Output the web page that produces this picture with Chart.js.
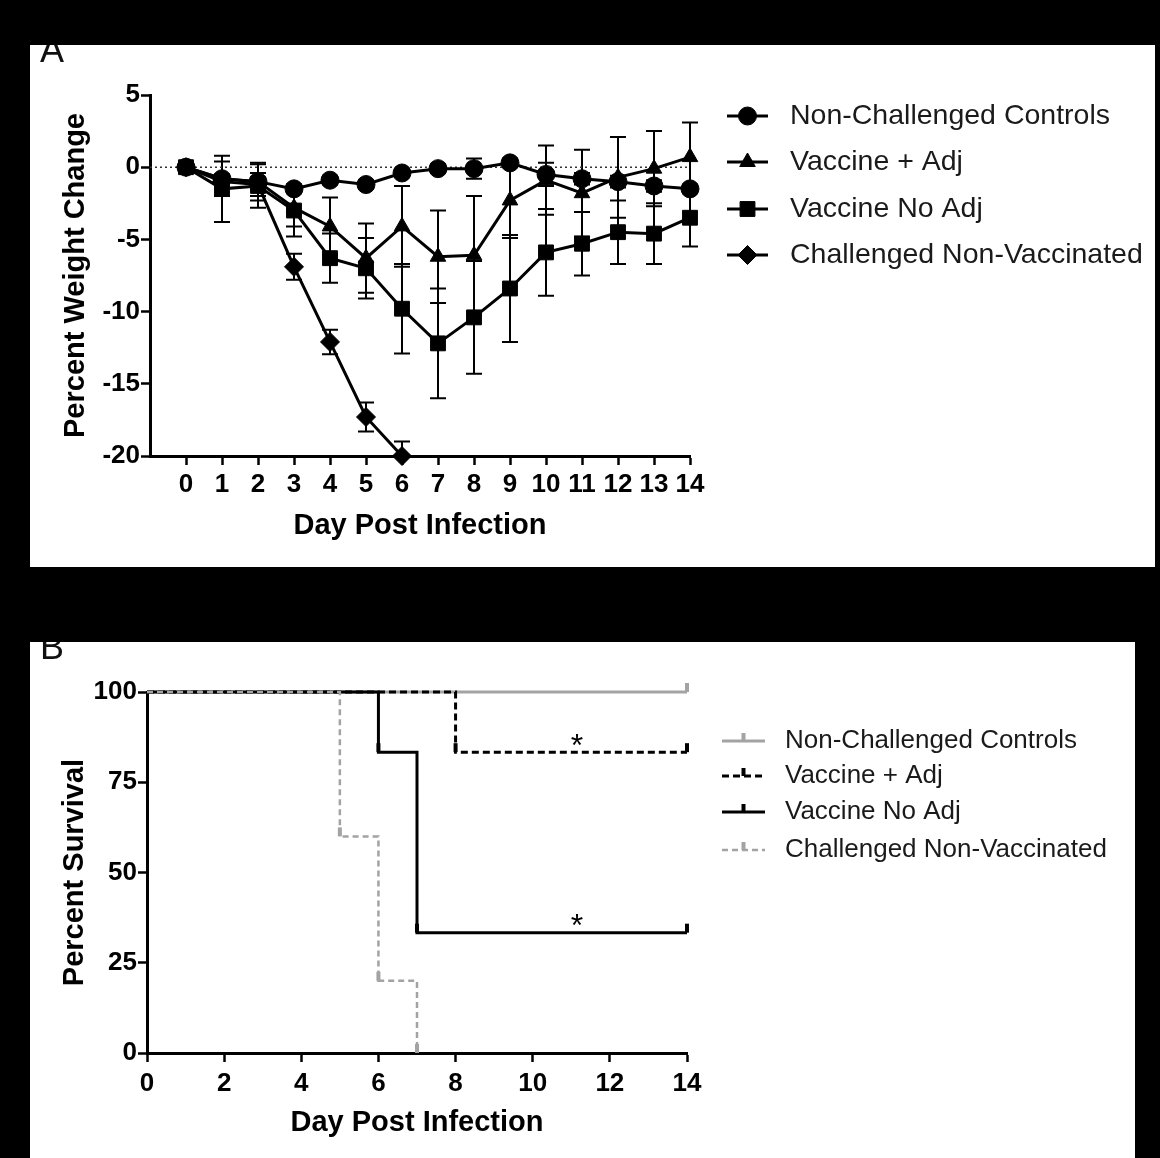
<!DOCTYPE html>
<html>
<head>
<meta charset="utf-8">
<script src="https://cdn.jsdelivr.net/npm/chart.js@4.4.1/dist/chart.umd.min.js"></script>
<style>
  body { margin: 0; background: #000; width: 1160px; height: 1158px; overflow: hidden; position: relative; }
  .panel { position: absolute; background: #fff; overflow: hidden; }
  #panelA { left: 30px; top: 45px; width: 1125px; height: 522px; }
  #panelB { left: 30px; top: 642px; width: 1105px; height: 516px; }
  .tag { position: absolute; left: 10px; font: 36px "Liberation Sans", Arial, sans-serif; color: #111; line-height: 1; }
  canvas { position: absolute; left: 0; top: 0; }
</style>
</head>
<body>
<div class="panel" id="panelA">
  <canvas id="chartA" width="1125" height="522"></canvas>
  <div class="tag" style="top:-13px">A</div>
</div>
<div class="panel" id="panelB">
  <canvas id="chartB" width="1105" height="516"></canvas>
  <div class="tag" style="top:-13px">B</div>
</div>
<script>
// ---- panel A data: percent weight change (mean, sd) ----
const days = [0, 1, 2, 3, 4, 5, 6, 7, 8, 9, 10, 11, 12, 13, 14];
const dayTicks = [0, 1, 2, 3, 4, 5, 6, 7, 8, 9, 10, 11, 12, 13, 14];
const weightTicks = [5, 0, -5, -10, -15, -20];

const controlsMean = [0, -0.8, -1.0, -1.5, -0.9, -1.2, -0.4, -0.1, -0.1, 0.3, -0.5, -0.8, -1.0, -1.3, -1.5];
const controlsSd   = [0, 0.3, 0.3, 0.3, 0.3, 0.3, 0.3, 0.3, 0.7, 0.3, 0.8, 0.4, 0.4, 0.4, 0.3];
const adjMean = [0, -0.8, -1.0, -2.8, -4.1, -6.3, -4.1, -6.2, -6.1, -2.3, -0.9, -1.8, -0.7, -0.1, 0.7];
const adjSd   = [0, 1.2, 1.3, 1.3, 2.0, 2.4, 2.8, 3.2, 4.1, 2.6, 2.4, 3.0, 2.8, 2.6, 2.4];
const noAdjMean = [0, -1.5, -1.3, -3.0, -6.3, -7.0, -9.8, -12.2, -10.4, -8.4, -5.9, -5.3, -4.5, -4.6, -3.5];
const noAdjSd   = [0, 2.3, 1.5, 1.8, 1.7, 2.1, 3.1, 3.8, 3.9, 3.7, 3.0, 2.2, 2.2, 2.1, 2.0];
const challengedDays = [0, 1, 2, 3, 4, 5, 6];
const challengedMean = [0, -1.0, -1.2, -6.9, -12.1, -17.3, -20.0];
const challengedSd   = [0, 0.5, 0.8, 0.9, 0.85, 1.0, 1.0];

// ---- panel B data: percent survival (Kaplan-Meier steps) ----
const survTicks = [0, 25, 50, 75, 100];
const survDayTicks = [0, 2, 4, 6, 8, 10, 12, 14];
const controlsSurvDays = [0, 14];
const controlsSurv     = [100, 100];
const adjSurvDays = [0, 8, 14];
const adjSurv     = [100, 83.33, 83.33];
const noAdjSurvDays = [0, 6, 7, 14];
const noAdjSurv     = [100, 83.33, 33.33, 33.33];
const challengedSurvDays = [0, 5, 6, 7];
const challengedSurv     = [100, 60, 20, 0];
const starDays = [11.15, 11.15];
const starValues = [86.5, 36.5];

const FONT = '"Liberation Sans", Arial, sans-serif';
const GRAY = '#a3a3a3';

function pts(xs, ys) {
  return xs.map((x, i) => ({ x: x, y: ys[i] }));
}

function axisStyle(tickFont, pad) {
  return {
    grid: { drawOnChartArea: false, drawTicks: true, tickLength: 9, tickWidth: 2.5, tickColor: '#000' },
    border: { display: true, width: 3, color: '#000' },
    ticks: { color: '#000', font: { family: FONT, size: tickFont, weight: 'bold' }, padding: pad, autoSkip: false, maxRotation: 0 }
  };
}

// error bars drawn through the scales
const errorBars = {
  id: 'errorBars',
  beforeDatasetsDraw(chart) {
    const ctx = chart.ctx;
    const xs = chart.scales.x, ys = chart.scales.y;
    const area = chart.chartArea;
    ctx.save();
    ctx.beginPath();
    ctx.rect(area.left - 10, area.top - 10, area.right - area.left + 20, area.bottom - area.top + 10);
    ctx.clip();
    ctx.strokeStyle = '#000';
    ctx.lineWidth = 2;
    chart.data.datasets.forEach(ds => {
      if (!ds.sd) return;
      ds.data.forEach((p, i) => {
        const sd = ds.sd[i];
        if (!sd) return;
        const x = xs.getPixelForValue(p.x);
        const y1 = ys.getPixelForValue(p.y + sd);
        const y2 = ys.getPixelForValue(p.y - sd);
        ctx.beginPath();
        ctx.moveTo(x, y1); ctx.lineTo(x, y2);
        ctx.moveTo(x - 8, y1); ctx.lineTo(x + 8, y1);
        ctx.moveTo(x - 8, y2); ctx.lineTo(x + 8, y2);
        ctx.stroke();
      });
    });
    ctx.restore();
  }
};

// legend at the right with line + symbol
function sideLegend(id, opts) {
  return {
    id: id,
    afterDraw(chart) {
      const ctx = chart.ctx;
      const left = chart.chartArea.right + opts.offset;
      ctx.save();
      chart.data.datasets.filter(d => d.legendRow !== undefined).forEach(ds => {
        const y = opts.rows[ds.legendRow];
        ctx.strokeStyle = ds.borderColor;
        ctx.lineWidth = ds.borderWidth;
        ctx.setLineDash(ds.borderDash || []);
        ctx.beginPath();
        ctx.moveTo(left, y); ctx.lineTo(left + opts.lineLen, y);
        ctx.stroke();
        ctx.setLineDash([]);
        ctx.fillStyle = ds.pointBackgroundColor || ds.borderColor;
        ctx.strokeStyle = ds.pointBorderColor || ds.borderColor;
        ctx.lineWidth = ds.pointBorderWidth || 1;
        Chart.helpers.drawPoint(ctx, {
          pointStyle: ds.pointStyle,
          radius: ds.legendRadius || ds.pointRadius,
          rotation: ds.pointRotation || 0,
          borderWidth: ds.pointBorderWidth || 1
        }, left + opts.lineLen / 2, y);
        ctx.fillStyle = '#1a1a1a';
        ctx.font = opts.size + 'px ' + FONT;
        ctx.textBaseline = 'middle';
        ctx.fillText(ds.label, left + opts.textGap, y);
      });
      ctx.restore();
    }
  };
}

// ---------- chart A ----------
const weightSets = [
  { label: 'Non-Challenged Controls', data: pts(days, controlsMean), sd: controlsSd, pointStyle: 'circle', pointRadius: 9, legendRow: 0 },
  { label: 'Vaccine + Adj', data: pts(days, adjMean), sd: adjSd, pointStyle: 'triangle', pointRadius: 9, legendRow: 1 },
  { label: 'Vaccine No Adj', data: pts(days, noAdjMean), sd: noAdjSd, pointStyle: 'rect', pointRadius: 10.5, legendRow: 2 },
  { label: 'Challenged Non-Vaccinated', data: pts(challengedDays, challengedMean), sd: challengedSd, pointStyle: 'rectRot', pointRadius: 9.5, legendRow: 3 }
].map(d => Object.assign({
  borderColor: '#000', backgroundColor: '#000', pointBackgroundColor: '#000', pointBorderColor: '#000',
  borderWidth: 3, pointBorderWidth: 1, pointHoverRadius: d.pointRadius, tension: 0, clip: false
}, d));

weightSets.push({
  label: 'zero', data: [{ x: -1, y: 0 }, { x: 14, y: 0 }],
  borderColor: '#333', borderWidth: 1.5, borderDash: [2, 3], pointRadius: 0, order: 10
});

new Chart(document.getElementById('chartA'), {
  type: 'line',
  data: { datasets: weightSets },
  options: {
    responsive: false, animation: false, devicePixelRatio: 1,
    layout: { padding: { left: 0, top: 50, right: 465, bottom: 0 } },
    plugins: { legend: { display: false }, tooltip: { enabled: false } },
    scales: {
      x: Object.assign({}, axisStyle(26, 4), {
        type: 'linear', min: -1, max: 14,
        afterBuildTicks: s => { s.ticks = dayTicks.map(v => ({ value: v })); },
        afterFit: s => { s.height = 111; },
        title: { display: true, text: 'Day Post Infection', color: '#000', font: { family: FONT, size: 29, weight: 'bold', lineHeight: 1 }, padding: { top: 0, bottom: 27 } }
      }),
      y: Object.assign({}, axisStyle(26, 1), {
        type: 'linear', min: -20, max: 5,
        afterBuildTicks: s => { s.ticks = weightTicks.map(v => ({ value: v })); },
        afterFit: s => { s.width = 120; },
        title: { display: true, text: 'Percent Weight Change', color: '#000', font: { family: FONT, size: 29, weight: 'bold', lineHeight: 1 }, padding: { top: 31, bottom: 0 } }
      })
    }
  },
  plugins: [errorBars, sideLegend('legendA', { offset: 37, lineLen: 41, textGap: 63, size: 28.5, rows: [71, 117, 164, 210] })]
});

// ---------- chart B ----------
const survSets = [
  { label: 'Non-Challenged Controls', data: pts(controlsSurvDays, controlsSurv), borderColor: GRAY, borderWidth: 3, pointRadius: [0, 9], legendRow: 0, order: 4 },
  { label: 'Vaccine + Adj', data: pts(adjSurvDays, adjSurv), borderColor: '#000', borderWidth: 3, borderDash: [7, 4], pointRadius: [0, 9, 9], legendRow: 1, order: 3 },
  { label: 'Vaccine No Adj', data: pts(noAdjSurvDays, noAdjSurv), borderColor: '#000', borderWidth: 3, pointRadius: [0, 9, 9, 9], legendRow: 2, order: 2 },
  { label: 'Challenged Non-Vaccinated', data: pts(challengedSurvDays, challengedSurv), borderColor: GRAY, borderWidth: 2.5, borderDash: [6, 4], pointRadius: [0, 9, 9, 9], legendRow: 3, order: 1 }
].map(d => Object.assign({
  stepped: 'before', pointStyle: 'dash', pointRotation: 270, pointBorderWidth: 4, legendRadius: 8,
  pointBorderColor: d.borderColor, pointBackgroundColor: d.borderColor, clip: false
}, d));

const stars = {
  id: 'stars',
  afterDatasetsDraw(chart) {
    const ctx = chart.ctx;
    ctx.save();
    ctx.fillStyle = '#000';
    ctx.font = '32px ' + FONT;
    ctx.textAlign = 'center';
    ctx.textBaseline = 'middle';
    starDays.forEach((d, i) => {
      ctx.fillText('*', chart.scales.x.getPixelForValue(d), chart.scales.y.getPixelForValue(starValues[i]) + 6);
    });
    ctx.restore();
  }
};

new Chart(document.getElementById('chartB'), {
  type: 'line',
  data: { datasets: survSets },
  options: {
    responsive: false, animation: false, devicePixelRatio: 1,
    layout: { padding: { left: 0, top: 50, right: 448, bottom: 0 } },
    plugins: { legend: { display: false }, tooltip: { enabled: false } },
    scales: {
      x: Object.assign({}, axisStyle(26, 6), {
        type: 'linear', min: 0, max: 14,
        afterBuildTicks: s => { s.ticks = survDayTicks.map(v => ({ value: v })); },
        afterFit: s => { s.height = 105; },
        title: { display: true, text: 'Day Post Infection', color: '#000', font: { family: FONT, size: 29, weight: 'bold', lineHeight: 1 }, padding: { top: 0, bottom: 21 } }
      }),
      y: Object.assign({}, axisStyle(26, 1), {
        type: 'linear', min: 0, max: 100,
        afterBuildTicks: s => { s.ticks = survTicks.map(v => ({ value: v })); },
        afterFit: s => { s.width = 117; },
        title: { display: true, text: 'Percent Survival', color: '#000', font: { family: FONT, size: 29, weight: 'bold', lineHeight: 1 }, padding: { top: 30, bottom: 0 } }
      })
    }
  },
  plugins: [stars, sideLegend('legendB', { offset: 35, lineLen: 43, textGap: 63, size: 26, rows: [99, 134, 170, 208] })]
});
</script>
</body>
</html>
